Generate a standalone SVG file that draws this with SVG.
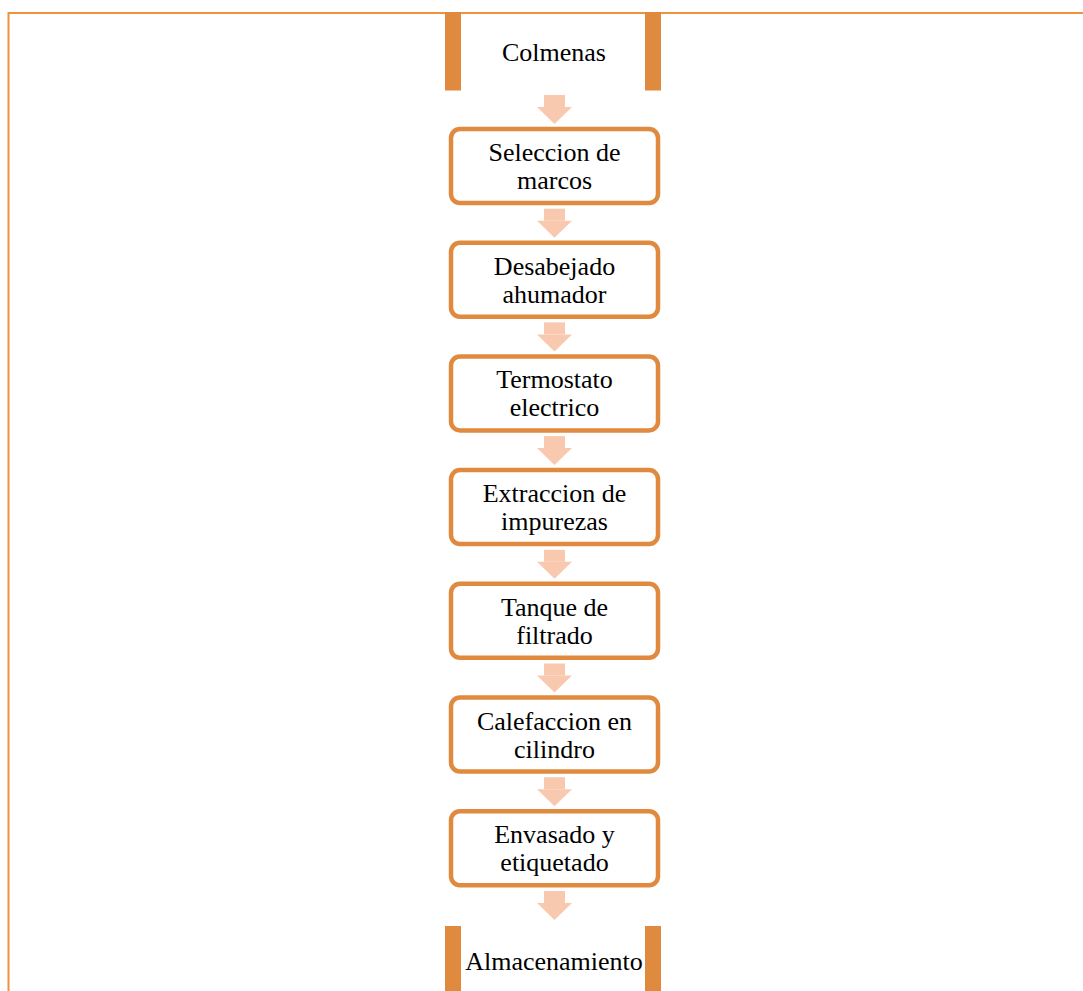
<svg xmlns="http://www.w3.org/2000/svg" width="1083" height="991" viewBox="0 0 1083 991">
<defs>
<style>
.box{fill:#ffffff;stroke:#E08A40;stroke-width:4.5}
.bar{fill:#E08A40}
.arr{fill:#F9C9AF}
.t{font-family:"Liberation Serif","Times New Roman",serif;font-size:26px;fill:#000;text-anchor:middle}
.frame{stroke:#F0913D;stroke-width:2;fill:none}
</style>
<g id="arrowShape">
<rect class="arr" x="544" y="0" width="21" height="12"/>
<polygon class="arr" points="537,12 572,12 554.5,29"/>
</g>
</defs>
<rect width="1083" height="991" fill="#ffffff"/>
<g id="frame">
<path class="frame" d="M1083,13 H8.5 V991"/>
</g>
<g id="connectors">
<use href="#arrowShape" y="95"/>
<use href="#arrowShape" y="208.7"/>
<use href="#arrowShape" y="322.4"/>
<use href="#arrowShape" y="436.1"/>
<use href="#arrowShape" y="549.8"/>
<use href="#arrowShape" y="663.5"/>
<use href="#arrowShape" y="777.2"/>
<use href="#arrowShape" y="891"/>
</g>
<g id="n0">
<rect class="bar" x="445" y="12" width="16" height="78.5"/>
<rect class="bar" x="645" y="12" width="16" height="78.5"/>
<text class="t" x="554" y="61">Colmenas</text>
</g>
<g id="n1">
<rect class="box" x="451" y="129" width="207" height="74" rx="9"/>
<text class="t" x="554.5" y="161">Seleccion de</text>
<text class="t" x="554.5" y="189">marcos</text>
</g>
<g id="n2">
<rect class="box" x="451" y="242.7" width="207" height="74" rx="9"/>
<text class="t" x="554.5" y="274.7">Desabejado</text>
<text class="t" x="554.5" y="302.7">ahumador</text>
</g>
<g id="n3">
<rect class="box" x="451" y="356.4" width="207" height="74" rx="9"/>
<text class="t" x="554.5" y="388.4">Termostato</text>
<text class="t" x="554.5" y="416.4">electrico</text>
</g>
<g id="n4">
<rect class="box" x="451" y="470.1" width="207" height="74" rx="9"/>
<text class="t" x="554.5" y="502.1">Extraccion de</text>
<text class="t" x="554.5" y="530.1">impurezas</text>
</g>
<g id="n5">
<rect class="box" x="451" y="583.8" width="207" height="74" rx="9"/>
<text class="t" x="554.5" y="615.8">Tanque de</text>
<text class="t" x="554.5" y="643.8">filtrado</text>
</g>
<g id="n6">
<rect class="box" x="451" y="697.5" width="207" height="74" rx="9"/>
<text class="t" x="554.5" y="729.5">Calefaccion en</text>
<text class="t" x="554.5" y="757.5">cilindro</text>
</g>
<g id="n7">
<rect class="box" x="451" y="811.2" width="207" height="74" rx="9"/>
<text class="t" x="554.5" y="843.2">Envasado y</text>
<text class="t" x="554.5" y="871.2">etiquetado</text>
</g>
<g id="n8">
<rect class="bar" x="445" y="926" width="16" height="65"/>
<rect class="bar" x="645" y="926" width="16" height="65"/>
<text class="t" x="554" y="970">Almacenamiento</text>
</g>
</svg>
